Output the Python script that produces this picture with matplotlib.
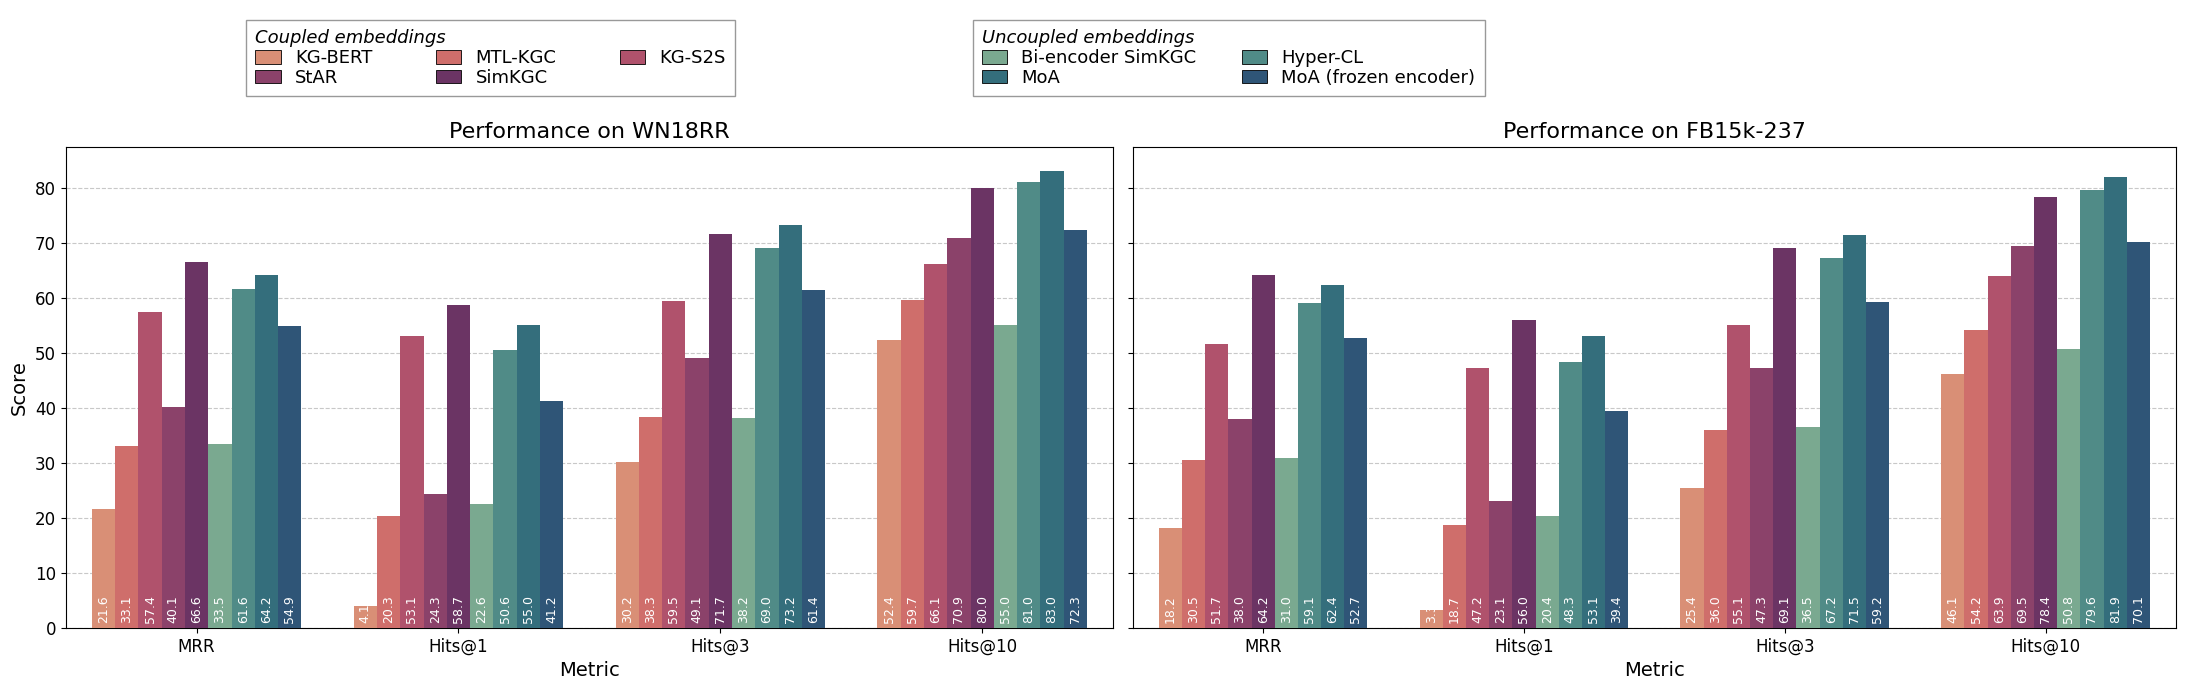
import matplotlib.pyplot as plt
import matplotlib.patches as mpatches
import numpy as np

metrics = ['MRR', 'Hits@1', 'Hits@3', 'Hits@10']
models = ['KG-BERT', 'MTL-KGC', 'KG-S2S', 'StAR', 'SimKGC',
          'Bi-encoder SimKGC', 'Hyper-CL', 'MoA', 'MoA (frozen encoder)']
colors = ['#d98f76', '#cf6e6b', '#b0526c', '#8b426a', '#6b3464',
          '#7aa990', '#508b87', '#346e7c', '#2f5577']

wn18rr = [
    [21.6, 4.1, 30.2, 52.4],
    [33.1, 20.3, 38.3, 59.7],
    [57.4, 53.1, 59.5, 66.1],
    [40.1, 24.3, 49.1, 70.9],
    [66.6, 58.7, 71.7, 80.0],
    [33.5, 22.6, 38.2, 55.0],
    [61.6, 50.6, 69.0, 81.0],
    [64.2, 55.0, 73.2, 83.0],
    [54.9, 41.2, 61.4, 72.3],
]
fb15k = [
    [18.2, 3.3, 25.4, 46.1],
    [30.5, 18.7, 36.0, 54.2],
    [51.7, 47.2, 55.1, 63.9],
    [38.0, 23.1, 47.3, 69.5],
    [64.2, 56.0, 69.1, 78.4],
    [31.0, 20.4, 36.5, 50.8],
    [59.1, 48.3, 67.2, 79.6],
    [62.4, 53.1, 71.5, 81.9],
    [52.7, 39.4, 59.2, 70.1],
]

W, H = 1568, 495  # reference measured at this display scale
fig = plt.figure(figsize=(21.9, 6.91), dpi=100)
ax1 = fig.add_axes([47/W, 1-450/H, 750/W, 345/H])
ax2 = fig.add_axes([811/W, 1-450/H, 747/W, 345/H], sharey=ax1)

x = np.arange(len(metrics))
w = 0.8 / len(models)
for ax, data, title in [(ax1, wn18rr, 'Performance on WN18RR'),
                        (ax2, fb15k, 'Performance on FB15k-237')]:
    for i, (name, vals) in enumerate(zip(models, data)):
        pos = x - 0.4 + w * (i + 0.5)
        ax.bar(pos, vals, w, color=colors[i], zorder=3)
        for p, v in zip(pos, vals):
            ax.text(p, 1, f'{v:.1f}', rotation=90, ha='center', va='bottom',
                    color='white', fontsize=9, zorder=4)
    ax.set_title(title, fontsize=16)
    ax.set_xticks(x)
    ax.set_xticklabels(metrics, fontsize=12)
    ax.set_xlabel('Metric', fontsize=14)
    ax.set_xlim(-0.5, 3.5)
    ax.grid(axis='y', linestyle='--', color='#c8c8c8', zorder=0)
    ax.tick_params(labelsize=12)
ax1.set_ylim(0, 87.5)
ax1.set_ylabel('Score', fontsize=14)
plt.setp(ax2.get_yticklabels(), visible=False)

h = [mpatches.Patch(facecolor=c, edgecolor='black', linewidth=0.6) for c in colors]
order1 = [0, 3, 1, 4, 2]
l1 = fig.legend([h[i] for i in order1], [models[i] for i in order1], ncol=3,
                loc='upper left', bbox_to_anchor=(170/W, 1-8/H),
                title='Coupled embeddings', fontsize=13, fancybox=False,
                edgecolor='gray', handlelength=1.4, handleheight=0.8,
                labelspacing=0.1, columnspacing=3.5, borderpad=0.5)
l1.get_title().set_fontstyle('italic')
l1.get_title().set_fontsize(13)
l1._legend_box.align = 'left'
order2 = [5, 7, 6, 8]
l2 = fig.legend([h[i] for i in order2], [models[i] for i in order2], ncol=2,
                loc='upper left', bbox_to_anchor=(690/W, 1-8/H),
                title='Uncoupled embeddings', fontsize=13, fancybox=False,
                edgecolor='gray', handlelength=1.4, handleheight=0.8,
                labelspacing=0.1, columnspacing=2.5, borderpad=0.5)
l2.get_title().set_fontstyle('italic')
l2.get_title().set_fontsize(13)
l2._legend_box.align = 'left'

fig.savefig('out.png', dpi=100)
